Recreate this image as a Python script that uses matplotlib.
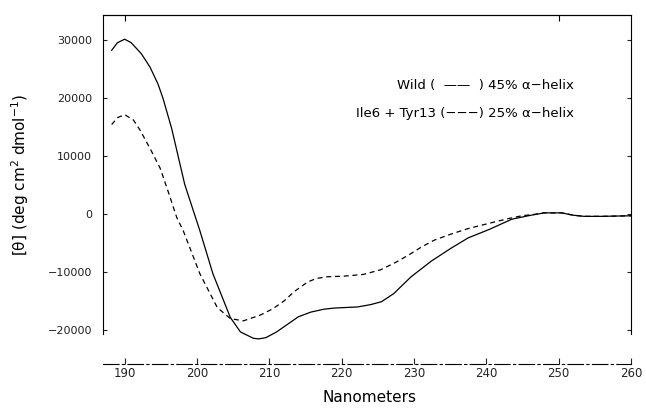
import matplotlib.pyplot as plt

# wavelength (nm) and mean residue ellipticity
wild_nm = [188.2, 189, 190, 190.9, 192.3, 193.5, 194.6, 195.3, 196.5, 198.3, 200.4,
           202.2, 204.6, 206, 207.8, 208.5, 209.5, 211, 212.5, 214, 215.7, 217.5, 218.9,
           220.5, 222.2, 224, 225.5, 227.2, 229.6, 232.4, 235.1, 237.5, 239.3, 240.5,
           243.5, 245.8, 248, 250.4, 252, 253.5, 256, 260]
wild_val = [28200, 29500, 30100, 29500, 27600, 25300, 22400, 19900, 14700, 5100, -2900,
            -10300, -17800, -20300, -21400, -21500, -21300, -20300, -19000, -17700,
            -16900, -16400, -16200, -16100, -16000, -15600, -15100, -13700, -10800,
            -8100, -5900, -4100, -3200, -2600, -900, -300, 200, 200, -200, -400, -400,
            -300]

mut_nm = [188.2, 189, 190, 191.2, 192.1, 193.5, 194.9, 196, 197.2, 198.1, 200.4, 202.8,
          204.6, 206.4, 208.75, 210.5, 212, 213.5, 215.3, 216.5, 218, 220.3, 223, 225.4,
          227.5, 229.2, 231, 232.8, 235, 237.5, 240.7, 243, 244.9, 247, 248, 250.4, 252,
          253.5, 256, 260]
mut_val = [15400, 16600, 17100, 16200, 14500, 11300, 7900, 3900, -600, -2900, -10300,
           -16100, -18000, -18400, -17400, -16300, -15000, -13300, -11700, -11100,
           -10800, -10700, -10400, -9600, -8300, -7100, -5700, -4500, -3500, -2500,
           -1500, -800, -300, 0, 200, 200, -200, -400, -400, -300]

x_ticks = [190, 200, 210, 220, 230, 240, 250, 260]
y_ticks = [-20000, -10000, 0, 10000, 20000, 30000]

fig = plt.figure(figsize=(6.46, 4.08), dpi=100)
ax = fig.add_axes([103 / 646, 1 - 347.6 / 408, 528 / 646, 332.6 / 408])

ax.plot(wild_nm, wild_val, color='black', lw=0.9)
ax.plot(mut_nm, mut_val, color='black', lw=0.9, linestyle=(0, (4, 3)))

ax.set_xlim(187, 260)
ax.set_ylim(-23000, 34270)
ax.set_xticks(x_ticks)
ax.set_yticks(y_ticks)
ax.set_yticklabels([str(v).replace('-', '\u2212') for v in y_ticks])

# open-bottom frame, detached dash-dot wavelength axis
ax.spines['left'].set_bounds(-20600, 34270)
ax.spines['right'].set_bounds(-20600, 34270)
ax.spines['bottom'].set_position(('outward', 11.8))
ax.spines['bottom'].set_linestyle((0, (14, 3, 2, 3)))
for s in ax.spines.values():
    s.set_linewidth(0.8)

ax.tick_params(axis='y', direction='in', length=3, width=0.8, right=True,
               labelsize=8, pad=8, colors='#222222')
ax.tick_params(axis='x', direction='in', length=4, width=0.8,
               labelsize=8.5, pad=2, colors='#222222')

top = ax.secondary_xaxis('top')
top.set_xticks([190, 250])
top.tick_params(direction='in', length=4, width=0.8, labeltop=False)

fig.text(574 / 646, 1 - 86 / 408, 'Wild (  \u2014\u2014  ) 45% \u03b1\u2212helix',
         ha='right', va='center', fontsize=9.5)
fig.text(574 / 646, 1 - 113 / 408, 'Ile6 + Tyr13 (\u2212\u2212\u2212) 25% \u03b1\u2212helix',
         ha='right', va='center', fontsize=9.5)

fig.text(20 / 646, 1 - 175 / 408, '[\u03b8] (deg cm$^{2}$ dmol$^{-1}$)', rotation=90,
         ha='center', va='center', fontsize=11)
fig.text(370 / 646, 1 - 398 / 408, 'Nanometers', ha='center', va='center', fontsize=11)

fig.savefig('out.png', dpi=100)
